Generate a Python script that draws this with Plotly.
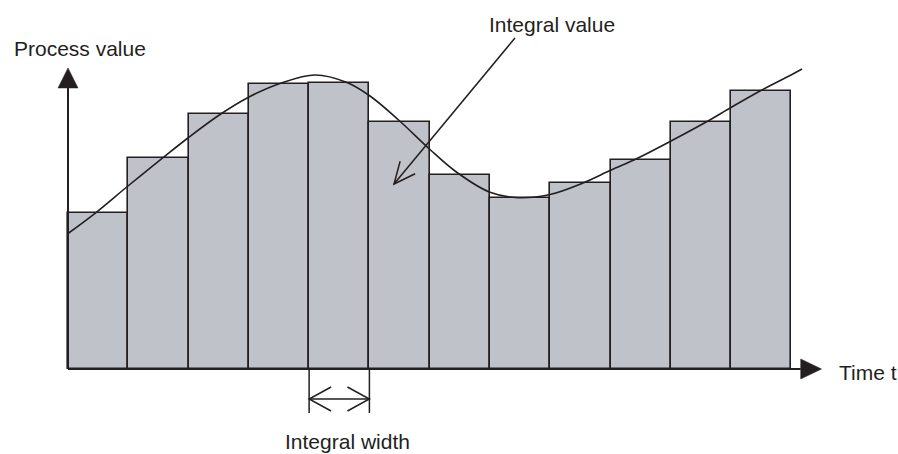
import math
import plotly.graph_objects as go

# ---------------- data ----------------
# time t measured in integral widths, value in arbitrary units
bar_times = [0.5, 1.5, 2.5, 3.5, 4.5, 5.5, 6.5, 7.5, 8.5, 9.5, 10.5, 11.5]
bar_values = [52.1, 70.3, 85.0, 95.1, 95.4, 82.3, 64.7, 57.1, 62.1, 69.8, 82.3, 92.7]

curve_t = [0.0, 0.448, 0.995, 1.576, 2.0, 2.522, 3.003, 3.517, 4.098, 4.628,
           5.010, 5.475, 6.005, 6.420, 7.001, 7.465, 7.996, 8.543, 9.008, 9.439,
           10.003, 10.601, 10.998, 11.480, 11.994, 12.177]
curve_v = [45.17, 51.9, 61.0, 70.43, 77.17, 84.83, 90.67, 95.17, 98.0, 95.5,
           91.0, 83.17, 73.17, 66.0, 58.9, 57.1, 58.17, 62.0, 66.33, 70.17,
           76.0, 82.5, 87.17, 92.67, 98.0, 100.0]

y_label = "Process value"
x_label = "Time t"
value_label = "Integral value"
width_label = "Integral width"

# ---------------- layout constants ----------------
W, H = 898, 454
X_RANGE = [-1.128, 13.769]
Y_RANGE = [-28.333, 123.0]
SX = W / (X_RANGE[1] - X_RANGE[0])   # px per t unit
SY = H / (Y_RANGE[1] - Y_RANGE[0])   # px per value unit

INK = "#231f20"
FILL = "#c0c2c9"
FONT = dict(family="Liberation Sans, Arial, sans-serif", size=21, color=INK)

Y_TIP, Y_BASE = 100.33, 93.67
X_TIP, X_BASE = 12.5, 12.155
HEAD_HALF = 10.0  # px


def open_head(tip, tail, length_px, half_angle_deg):
    dx = (tail[0] - tip[0]) * SX
    dy = (tail[1] - tip[1]) * SY
    n = math.hypot(dx, dy)
    ux, uy = dx / n, dy / n
    pts = []
    for s in (1, -1):
        a = math.radians(half_angle_deg) * s
        rx = ux * math.cos(a) - uy * math.sin(a)
        ry = ux * math.sin(a) + uy * math.cos(a)
        pts.append((tip[0] + rx * length_px / SX, tip[1] + ry * length_px / SY))
    (x1, y1), (x2, y2) = pts
    return f"M{x1},{y1} L{tip[0]},{tip[1]} L{x2},{y2}"


fig = go.Figure()

fig.add_trace(go.Bar(
    x=bar_times, y=bar_values, width=1.0,
    marker=dict(color=FILL, line=dict(color=INK, width=1.6)),
    hoverinfo="skip", showlegend=False,
))

fig.add_trace(go.Scatter(
    x=curve_t, y=curve_v, mode="lines",
    line=dict(color=INK, width=1.6, shape="spline", smoothing=1.0),
    hoverinfo="skip", showlegend=False,
))

shapes = []
line_style = dict(color=INK, width=2)
# y axis
shapes.append(dict(type="line", x0=0, y0=0, x1=0, y1=Y_BASE, line=line_style))
shapes.append(dict(type="path",
                   path=f"M{-HEAD_HALF / SX},{Y_BASE} L0,{Y_TIP} L{HEAD_HALF / SX},{Y_BASE} Z",
                   fillcolor=INK, line=dict(color=INK, width=0.5)))
# x axis
shapes.append(dict(type="line", x0=0, y0=0, x1=X_BASE, y1=0, line=line_style))
shapes.append(dict(type="path",
                   path=f"M{X_BASE},{-HEAD_HALF / SY} L{X_TIP},0 L{X_BASE},{HEAD_HALF / SY} Z",
                   fillcolor=INK, line=dict(color=INK, width=0.5)))

# integral value pointer
tail = (7.415, 110.33)
tip = (5.408, 61.67)
thin = dict(color=INK, width=1.5)
shapes.append(dict(type="line", x0=tail[0], y0=tail[1], x1=tip[0], y1=tip[1], line=thin))
shapes.append(dict(type="path", path=open_head(tip, tail, 23.5, 24.5), line=thin))

# integral width dimension
w0, w1 = 4.0, 5.0
dim_v, ext_v = -10.0, -14.67
shapes.append(dict(type="line", x0=w0, y0=0, x1=w0, y1=ext_v, line=thin))
shapes.append(dict(type="line", x0=w1, y0=0, x1=w1, y1=ext_v, line=thin))
shapes.append(dict(type="line", x0=w0, y0=dim_v, x1=w1, y1=dim_v, line=thin))
shapes.append(dict(type="path", path=open_head((w0, dim_v), (w1, dim_v), 25, 28.6), line=thin))
shapes.append(dict(type="path", path=open_head((w1, dim_v), (w0, dim_v), 25, 28.6), line=thin))

annotations = [
    dict(x=-0.929, y=107.0, text=y_label, xanchor="left", yanchor="middle"),
    dict(x=8.024, y=115.0, text=value_label, xanchor="center", yanchor="middle"),
    dict(x=12.752, y=-1.33, text=x_label, xanchor="left", yanchor="middle"),
    dict(x=4.637, y=-24.2, text=width_label, xanchor="center", yanchor="middle"),
]
for a in annotations:
    a.update(showarrow=False, font=FONT, xref="x", yref="y")

fig.update_layout(
    width=W, height=H,
    margin=dict(l=0, r=0, t=0, b=0),
    paper_bgcolor="white", plot_bgcolor="white",
    xaxis=dict(range=X_RANGE, visible=False, fixedrange=True),
    yaxis=dict(range=Y_RANGE, visible=False, fixedrange=True),
    shapes=shapes, annotations=annotations,
    bargap=0, showlegend=False,
)

fig.write_html(
    "out.html",
    config={"displayModeBar": False},
    post_script="document.body.style.margin='0';document.body.style.overflow='hidden';",
)
